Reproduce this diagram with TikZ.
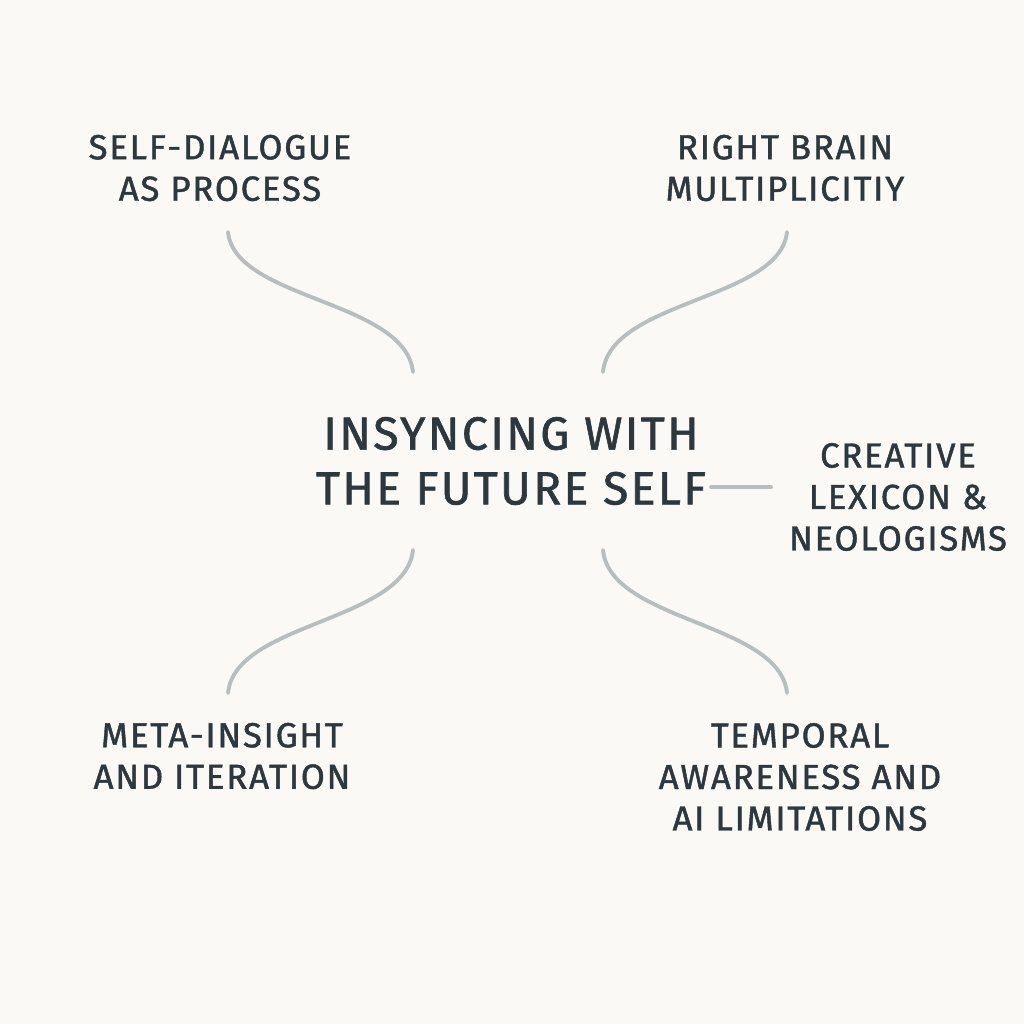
\documentclass[tikz,border=0pt]{standalone}
\usepackage{fontspec}
\setmainfont{Fira Sans}[LetterSpace=5, BoldFont={Fira Sans}, BoldFeatures={FakeBold=1.3}]
\usetikzlibrary{positioning}
\definecolor{bgpaper}{RGB}{250,249,246}
\definecolor{inkslate}{RGB}{45,56,62}
\definecolor{linkgray}{RGB}{184,189,190}
\tikzset{
  topic/.style={align=center, text=inkslate, inner sep=0pt,
    font=\fontsize{9.9}{11.8}\selectfont\bfseries},
  hub/.style={align=center, text=inkslate, inner sep=0pt,
    font=\fontsize{13.2}{15.6}\selectfont\bfseries},
  link/.style={draw=linkgray, line width=1.1pt, line cap=round}
}
\begin{document}
\begin{tikzpicture}[x=0.01cm, y=-0.01cm]
    % Background
    \fill[bgpaper] (0,0) rectangle (1024,1024);

    % Hub
    \node[hub] (hub) at (511,461) {INSYNCING WITH\\THE FUTURE SELF};

    % Topics
    \node[topic] (dialogue) at (220,168) {SELF-DIALOGUE\\AS PROCESS};
    \node[topic] (brain) at (785,168) {RIGHT BRAIN\\MULTIPLICITIY};
    \node[topic] (lexicon) at (898,497) {CREATIVE\\LEXICON \&\\NEOLOGISMS};
    \node[topic] (meta) at (222,756) {META-INSIGHT\\AND ITERATION};
    \node[topic] (temporal) at (800,777) {TEMPORAL\\AWARENESS AND\\AI LIMITATIONS};

    % Link ends
    \coordinate (dialogueEnd) at (228,232);
    \coordinate (hubTL) at (413,372);
    \coordinate (brainEnd) at (787,232);
    \coordinate (hubTR) at (603,372);
    \coordinate (metaEnd) at (228,693);
    \coordinate (hubBL) at (413,550);
    \coordinate (temporalEnd) at (787,693);
    \coordinate (hubBR) at (603,550);
    \coordinate (hubR) at (711,487);
    \coordinate (lexiconEnd) at (771,487);

    % Links
    \draw[link] (dialogueEnd) .. controls (235,300) and (405,300) .. (hubTL);
    \draw[link] (brainEnd) .. controls (780,300) and (610,300) .. (hubTR);
    \draw[link] (metaEnd) .. controls (235,622) and (405,622) .. (hubBL);
    \draw[link] (temporalEnd) .. controls (780,622) and (610,622) .. (hubBR);
    \draw[link] (hubR) -- (lexiconEnd);
\end{tikzpicture}
\end{document}
